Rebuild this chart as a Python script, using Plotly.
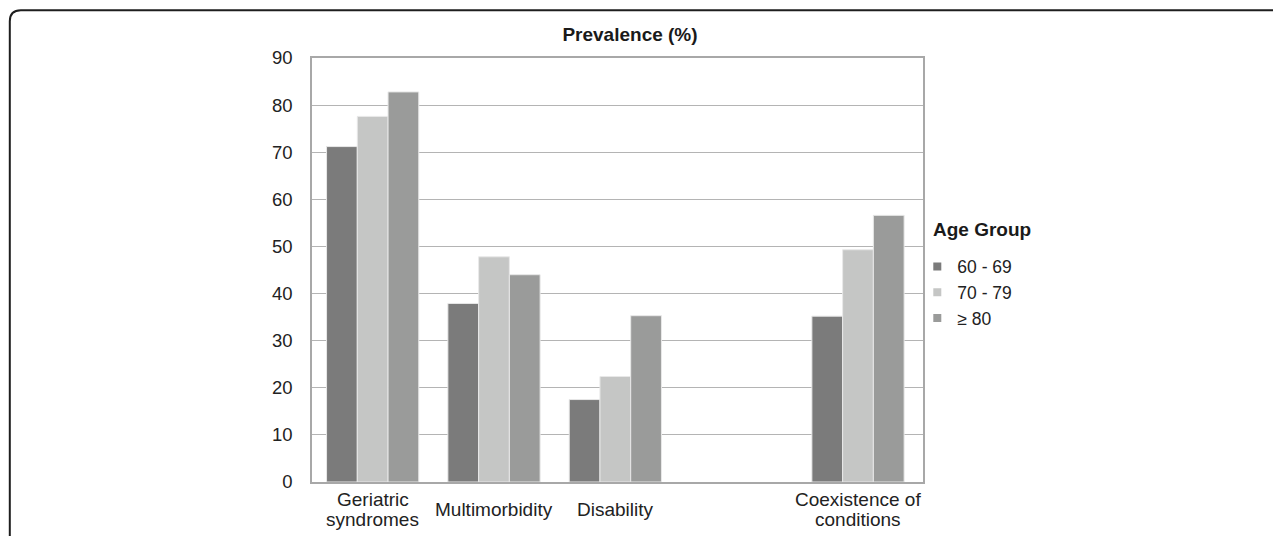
import plotly.graph_objects as go

categories = ["Geriatric<br>syndromes", "Multimorbidity", "Disability", " ", "Coexistence of<br>conditions"]
series_names = ["60 - 69", "70 - 79", "≥ 80"]
v_60_69 = [71.2, 37.9, 17.5, None, 35.2]
v_70_79 = [77.6, 47.8, 22.4, None, 49.3]
v_80_plus = [82.8, 44.0, 35.3, None, 56.6]
colors = ["#7b7b7b", "#c5c6c5", "#9a9b9a"]
y_ticks = [0, 10, 20, 30, 40, 50, 60, 70, 80, 90]

# page body has an 8px margin; size the figure so it fills the window exactly
OFF = 8
W, H = 1281 - OFF, 536 - OFF
L, R, T, B = 311.7 - OFF, 922.7 - OFF, 58.3 - OFF, 482.3 - OFF


def px_x(px):  # window pixel -> paper x
    return (px - OFF - L) / (R - L)


def px_y(py):  # window pixel -> paper y
    return (B - (py - OFF)) / (B - T)


font_family = "Arial, Liberation Sans, sans-serif"

fig = go.Figure()
for name, vals, col in zip(series_names, [v_60_69, v_70_79, v_80_plus], colors):
    fig.add_trace(go.Bar(x=categories, y=vals, name=name, legendgroup=name, showlegend=False,
                         marker=dict(color=col, line=dict(color="#e8e8e8", width=1))))
# legend entries with small square keys (linked to the bars via legendgroup)
for name, col in zip(series_names, colors):
    fig.add_trace(go.Scatter(x=[None], y=[None], mode="markers", name=name, legendgroup=name,
                             marker=dict(symbol="square", size=8, color=col)))

# outer rounded frame (top-left corner visible)
r = 11
path = (f"M {px_x(9.5)},{px_y(545)} L {px_x(9.5)},{px_y(10.5 + r)} "
        f"Q {px_x(9.5)},{px_y(10.5)} {px_x(9.5 + r)},{px_y(10.5)} "
        f"L {px_x(1295)},{px_y(10.5)}")
fig.add_shape(type="path", path=path, xref="paper", yref="paper",
              line=dict(color="#1e1e1e", width=2))

# category labels, vertically centred under each group (tight line spacing)
line_gap = 19.5
for cat in categories:
    lines = cat.split("<br>")
    n = len(lines)
    for i, ln in enumerate(lines):
        if not ln.strip():
            continue
        yc = 510 + (i - (n - 1) / 2) * line_gap
        fig.add_annotation(x=cat, xref="x", y=px_y(yc), yref="paper", text=ln,
                           showarrow=False, xanchor="center", yanchor="middle",
                           font=dict(size=19, color="#222222", family=font_family))

# legend heading
fig.add_annotation(x=px_x(931), xref="paper", y=px_y(230), yref="paper",
                   text="<b>Age Group</b>", showarrow=False, xanchor="left",
                   yanchor="middle", font=dict(size=19, color="#1a1a1a", family=font_family))

fig.update_layout(
    width=W, height=H,
    margin=dict(l=L, r=W - R, t=T, b=H - B, pad=0),
    paper_bgcolor="white", plot_bgcolor="white",
    font=dict(family=font_family, color="#222222", size=17),
    barmode="group", bargap=0.24, bargroupgap=0,
    title=dict(text="<b>Prevalence (%)</b>", x=(630 - OFF) / W, xanchor="center",
               y=1 - (34 - OFF) / H, yanchor="middle", font=dict(size=19, color="#1a1a1a")),
    showlegend=True,
    legend=dict(
        x=px_x(917), xanchor="left", y=px_y(249), yanchor="top",
        font=dict(size=17.5, color="#222222"), bgcolor="rgba(0,0,0,0)",
        itemwidth=30, tracegroupgap=0,
    ),
)
fig.update_xaxes(
    type="category", categoryorder="array", categoryarray=categories,
    showline=True, linecolor="#a8a8a8", linewidth=1.5, mirror=True,
    showgrid=False, ticks="", showticklabels=False,
)
fig.update_yaxes(
    range=[0, 90], tickvals=y_ticks, ticktext=[str(v) for v in y_ticks],
    showgrid=True, gridcolor="#b4b4b4", gridwidth=1,
    showline=True, linecolor="#a8a8a8", linewidth=1.5, mirror=True,
    ticks="", tickfont=dict(size=18.5, color="#222222"), ticklabelstandoff=14,
    zeroline=False,
)

fig.write_html("out.html")
